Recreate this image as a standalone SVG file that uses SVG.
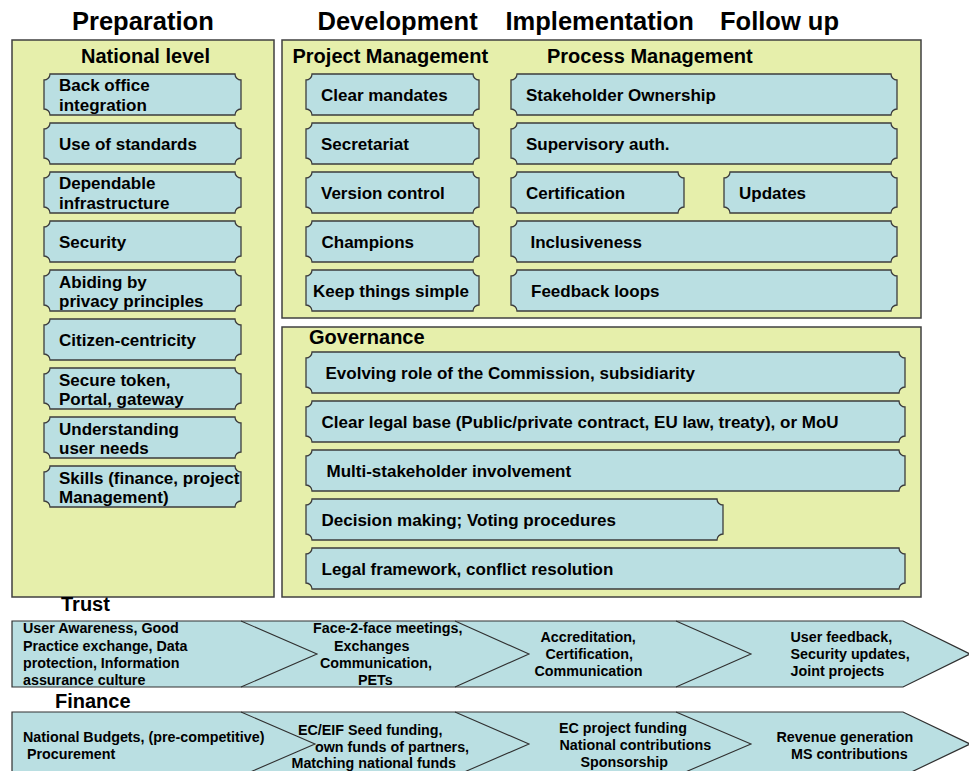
<svg xmlns="http://www.w3.org/2000/svg" width="969" height="771" viewBox="0 0 969 771">
<style>
  text { font-family: "Liberation Sans", Arial, sans-serif; font-weight: bold; fill: #000; }
  .hdr { font-size: 25.5px; }
  .sub { font-size: 20px; }
  .nt { font-size: 17px; }
  .rt { font-size: 14.3px; }
  .panel { fill: #e6efab; stroke: #404040; stroke-width: 1.5; }
  .node { fill: #badfe2; stroke: #3c3c3c; stroke-width: 1.3; }
  .band { fill: #badfe2; stroke: #303030; stroke-width: 1.2; }
  .div { fill: none; stroke: #303030; stroke-width: 1.1; }
</style>
<rect width="969" height="771" fill="#fff"/>

<g id="headers">
  <text class="hdr" x="72" y="30">Preparation</text>
  <text class="hdr" x="317.5" y="30">Development</text>
  <text class="hdr" x="505.5" y="30">Implementation</text>
  <text class="hdr" x="720" y="30">Follow up</text>
</g>

<g id="panel-national">
  <rect class="panel" x="12" y="40" width="262" height="557"/>
  <text class="sub" x="81" y="63">National level</text>
</g>
<g id="panel-management">
  <rect class="panel" x="282" y="40" width="639" height="278"/>
  <text class="sub" x="292.5" y="63">Project Management</text>
  <text class="sub" x="547" y="63">Process Management</text>
</g>
<g id="panel-governance">
  <rect class="panel" x="282" y="327" width="639" height="270"/>
  <text class="sub" x="309" y="344">Governance</text>
</g>

<!-- National level nodes -->
<g id="n-backoffice"><path class="node" d="M44,74 m6,0 h185 a6,6 0 0 0 6,6 v29 a6,6 0 0 0 -6,6 h-185 a6,6 0 0 0 -6,-6 v-29 a6,6 0 0 0 6,-6z"/><text class="nt" x="59" y="91">Back office</text><text class="nt" x="59" y="111">integration</text></g>
<g id="n-standards"><path class="node" d="M44,123 m6,0 h185 a6,6 0 0 0 6,6 v29 a6,6 0 0 0 -6,6 h-185 a6,6 0 0 0 -6,-6 v-29 a6,6 0 0 0 6,-6z"/><text class="nt" x="59" y="149.5">Use of standards</text></g>
<g id="n-infrastructure"><path class="node" d="M44,172 m6,0 h185 a6,6 0 0 0 6,6 v29 a6,6 0 0 0 -6,6 h-185 a6,6 0 0 0 -6,-6 v-29 a6,6 0 0 0 6,-6z"/><text class="nt" x="59" y="189">Dependable</text><text class="nt" x="59" y="209">infrastructure</text></g>
<g id="n-security"><path class="node" d="M44,221 m6,0 h185 a6,6 0 0 0 6,6 v29 a6,6 0 0 0 -6,6 h-185 a6,6 0 0 0 -6,-6 v-29 a6,6 0 0 0 6,-6z"/><text class="nt" x="59" y="247.5">Security</text></g>
<g id="n-privacy"><path class="node" d="M44,270 m6,0 h185 a6,6 0 0 0 6,6 v29 a6,6 0 0 0 -6,6 h-185 a6,6 0 0 0 -6,-6 v-29 a6,6 0 0 0 6,-6z"/><text class="nt" x="59" y="287.5">Abiding by</text><text class="nt" x="59" y="307">privacy principles</text></g>
<g id="n-citizen"><path class="node" d="M44,319 m6,0 h185 a6,6 0 0 0 6,6 v29 a6,6 0 0 0 -6,6 h-185 a6,6 0 0 0 -6,-6 v-29 a6,6 0 0 0 6,-6z"/><text class="nt" x="59" y="345.5">Citizen-centricity</text></g>
<g id="n-token"><path class="node" d="M44,368 m6,0 h185 a6,6 0 0 0 6,6 v29 a6,6 0 0 0 -6,6 h-185 a6,6 0 0 0 -6,-6 v-29 a6,6 0 0 0 6,-6z"/><text class="nt" x="59" y="386">Secure token,</text><text class="nt" x="59" y="405">Portal, gateway</text></g>
<g id="n-userneeds"><path class="node" d="M44,417 m6,0 h185 a6,6 0 0 0 6,6 v29 a6,6 0 0 0 -6,6 h-185 a6,6 0 0 0 -6,-6 v-29 a6,6 0 0 0 6,-6z"/><text class="nt" x="59" y="435">Understanding</text><text class="nt" x="59" y="454">user needs</text></g>
<g id="n-skills"><path class="node" d="M44,466 m6,0 h185 a6,6 0 0 0 6,6 v29 a6,6 0 0 0 -6,6 h-185 a6,6 0 0 0 -6,-6 v-29 a6,6 0 0 0 6,-6z"/><text class="nt" x="59" y="483.5">Skills (finance, project</text><text class="nt" x="59" y="502.5">Management)</text></g>

<!-- Project management nodes -->
<g id="n-mandates"><path class="node" d="M306,74 m6,0 h161 a6,6 0 0 0 6,6 v29 a6,6 0 0 0 -6,6 h-161 a6,6 0 0 0 -6,-6 v-29 a6,6 0 0 0 6,-6z"/><text class="nt" x="321" y="100.5">Clear mandates</text></g>
<g id="n-secretariat"><path class="node" d="M306,123 m6,0 h161 a6,6 0 0 0 6,6 v29 a6,6 0 0 0 -6,6 h-161 a6,6 0 0 0 -6,-6 v-29 a6,6 0 0 0 6,-6z"/><text class="nt" x="321" y="149.5">Secretariat</text></g>
<g id="n-version"><path class="node" d="M306,172 m6,0 h161 a6,6 0 0 0 6,6 v29 a6,6 0 0 0 -6,6 h-161 a6,6 0 0 0 -6,-6 v-29 a6,6 0 0 0 6,-6z"/><text class="nt" x="321" y="198.5">Version control</text></g>
<g id="n-champions"><path class="node" d="M306,221 m6,0 h161 a6,6 0 0 0 6,6 v29 a6,6 0 0 0 -6,6 h-161 a6,6 0 0 0 -6,-6 v-29 a6,6 0 0 0 6,-6z"/><text class="nt" x="321.5" y="247.5">Champions</text></g>
<g id="n-simple"><path class="node" d="M306,270 m6,0 h161 a6,6 0 0 0 6,6 v29 a6,6 0 0 0 -6,6 h-161 a6,6 0 0 0 -6,-6 v-29 a6,6 0 0 0 6,-6z"/><text class="nt" x="313" y="296.5">Keep things simple</text></g>

<!-- Process management nodes -->
<g id="n-ownership"><path class="node" d="M511,74 m6,0 h374 a6,6 0 0 0 6,6 v29 a6,6 0 0 0 -6,6 h-374 a6,6 0 0 0 -6,-6 v-29 a6,6 0 0 0 6,-6z"/><text class="nt" x="526" y="100.5">Stakeholder Ownership</text></g>
<g id="n-supervisory"><path class="node" d="M511,123 m6,0 h374 a6,6 0 0 0 6,6 v29 a6,6 0 0 0 -6,6 h-374 a6,6 0 0 0 -6,-6 v-29 a6,6 0 0 0 6,-6z"/><text class="nt" x="526" y="149.5">Supervisory auth.</text></g>
<g id="n-certification"><path class="node" d="M511,172 m6,0 h161 a6,6 0 0 0 6,6 v29 a6,6 0 0 0 -6,6 h-161 a6,6 0 0 0 -6,-6 v-29 a6,6 0 0 0 6,-6z"/><text class="nt" x="526" y="198.5">Certification</text></g>
<g id="n-updates"><path class="node" d="M724,172 m6,0 h161 a6,6 0 0 0 6,6 v29 a6,6 0 0 0 -6,6 h-161 a6,6 0 0 0 -6,-6 v-29 a6,6 0 0 0 6,-6z"/><text class="nt" x="739" y="198.5">Updates</text></g>
<g id="n-inclusiveness"><path class="node" d="M511,221 m6,0 h374 a6,6 0 0 0 6,6 v29 a6,6 0 0 0 -6,6 h-374 a6,6 0 0 0 -6,-6 v-29 a6,6 0 0 0 6,-6z"/><text class="nt" x="530.5" y="247.5">Inclusiveness</text></g>
<g id="n-feedback"><path class="node" d="M511,270 m6,0 h374 a6,6 0 0 0 6,6 v29 a6,6 0 0 0 -6,6 h-374 a6,6 0 0 0 -6,-6 v-29 a6,6 0 0 0 6,-6z"/><text class="nt" x="531" y="296.5">Feedback loops</text></g>

<!-- Governance nodes -->
<g id="n-commission"><path class="node" d="M306,352 m6,0 h587 a6,6 0 0 0 6,6 v29 a6,6 0 0 0 -6,6 h-587 a6,6 0 0 0 -6,-6 v-29 a6,6 0 0 0 6,-6z"/><text class="nt" x="325.5" y="379">Evolving role of the Commission, subsidiarity</text></g>
<g id="n-legalbase"><path class="node" d="M306,401 m6,0 h587 a6,6 0 0 0 6,6 v29 a6,6 0 0 0 -6,6 h-587 a6,6 0 0 0 -6,-6 v-29 a6,6 0 0 0 6,-6z"/><text class="nt" x="321.5" y="428">Clear legal base (Public/private contract, EU law, treaty), or MoU</text></g>
<g id="n-multistakeholder"><path class="node" d="M306,450 m6,0 h587 a6,6 0 0 0 6,6 v29 a6,6 0 0 0 -6,6 h-587 a6,6 0 0 0 -6,-6 v-29 a6,6 0 0 0 6,-6z"/><text class="nt" x="326.5" y="477">Multi-stakeholder involvement</text></g>
<g id="n-decision"><path class="node" d="M306,499 m6,0 h405 a6,6 0 0 0 6,6 v29 a6,6 0 0 0 -6,6 h-405 a6,6 0 0 0 -6,-6 v-29 a6,6 0 0 0 6,-6z"/><text class="nt" x="321.5" y="526">Decision making; Voting procedures</text></g>
<g id="n-legalframework"><path class="node" d="M306,548 m6,0 h587 a6,6 0 0 0 6,6 v29 a6,6 0 0 0 -6,6 h-587 a6,6 0 0 0 -6,-6 v-29 a6,6 0 0 0 6,-6z"/><text class="nt" x="321.5" y="575">Legal framework, conflict resolution</text></g>

<!-- Trust row -->
<g id="trust">
  <text class="sub" x="61" y="611">Trust</text>
  <path class="band" d="M12,621 H903 L970,654 L903,687 H12 Z"/>
  <path class="div" d="M241,621 L317,654 L241,687 M455,621 L529,654 L455,687 M676,621 L751,654 L676,687"/>
  <g id="trust-1">
    <text class="rt" x="23" y="633">User Awareness, Good</text>
    <text class="rt" x="23" y="650.5">Practice exchange, Data</text>
    <text class="rt" x="23" y="668">protection, Information</text>
    <text class="rt" x="23" y="685">assurance culture</text>
  </g>
  <g id="trust-2">
    <text class="rt" x="313" y="633">Face-2-face meetings,</text>
    <text class="rt" x="334" y="650.5">Exchanges</text>
    <text class="rt" x="320" y="668">Communication,</text>
    <text class="rt" x="358" y="685">PETs</text>
  </g>
  <g id="trust-3">
    <text class="rt" x="540.5" y="642">Accreditation,</text>
    <text class="rt" x="545.5" y="659">Certification,</text>
    <text class="rt" x="534.5" y="676">Communication</text>
  </g>
  <g id="trust-4">
    <text class="rt" x="790.5" y="642">User feedback,</text>
    <text class="rt" x="790.5" y="659">Security updates,</text>
    <text class="rt" x="790.5" y="676">Joint projects</text>
  </g>
</g>

<!-- Finance row -->
<g id="finance">
  <text class="sub" x="55" y="707.5">Finance</text>
  <path class="band" d="M12,712 H903 L970,744 L903,776 H12 Z"/>
  <path class="div" d="M241,712 L315,744 L241,776 M455,712 L529,744 L455,776 M676,712 L751,744 L676,776"/>
  <g id="finance-1">
    <text class="rt" x="23" y="742">National Budgets, (pre-competitive)</text>
    <text class="rt" x="27" y="759">Procurement</text>
  </g>
  <g id="finance-2">
    <text class="rt" x="298" y="735">EC/EIF Seed funding,</text>
    <text class="rt" x="315" y="751.5">own funds of partners,</text>
    <text class="rt" x="291.5" y="768">Matching national funds</text>
  </g>
  <g id="finance-3">
    <text class="rt" x="559" y="733">EC project funding</text>
    <text class="rt" x="559.5" y="750">National contributions</text>
    <text class="rt" x="580.5" y="767">Sponsorship</text>
  </g>
  <g id="finance-4">
    <text class="rt" x="776.5" y="742">Revenue generation</text>
    <text class="rt" x="791" y="759">MS contributions</text>
  </g>
</g>

<g id="connectors"></g>
</svg>
